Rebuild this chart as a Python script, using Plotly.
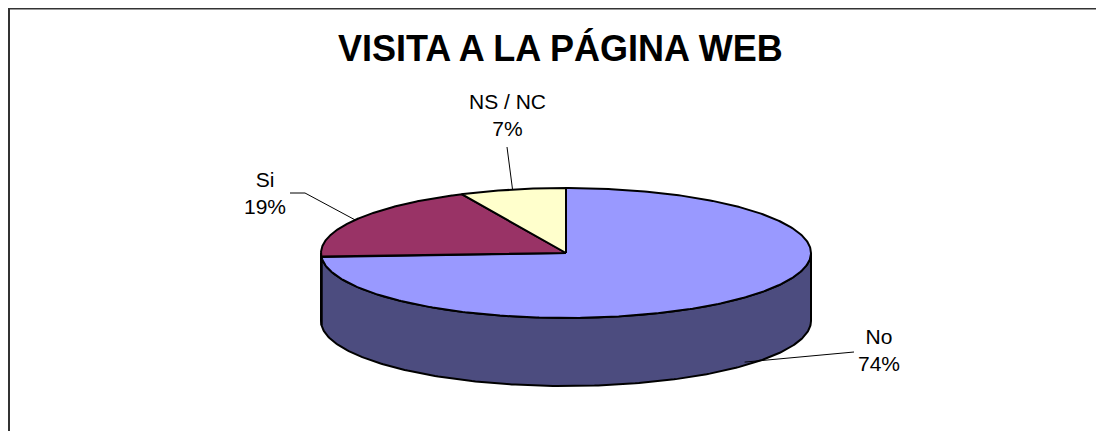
import numpy as np
import plotly.graph_objects as go

# ---- data ----
categories = ["No", "Si", "NS / NC"]
values = [74, 19, 7]
title_text = "VISITA A LA PÁGINA WEB"

# ---- styles / layout constants (page pixel coordinates) ----
top_colors = ["#9999FF", "#993366", "#FFFFCC"]
side_colors = ["#4C4C7F", "#4C1933", "#7F7F66"]
W, H = 1104, 431
OFF = 8  # browser body margin
CX, CY, RX, RY, DEPTH = 566, 253, 245, 65, 68
label_pos = [(879, 350), (265, 193), (507, 115)]
leader_end = [[(854, 352)], [(305, 193), (290, 193)], [(507, 147)]]
label_anchor_on_side = [True, False, False]

total = sum(values)
bounds = np.concatenate([[0.0], np.cumsum(values) / total * 360.0])


def pts(thetas, dy=0.0):
    t = np.radians(np.asarray(thetas, dtype=float))
    return CX + RX * np.sin(t), CY - RY * np.cos(t) + dy


fig = go.Figure()

# side walls (front half only: 90..270 degrees, clockwise from top)
for i in range(len(values)):
    a, b = max(bounds[i], 90.0), min(bounds[i + 1], 270.0)
    if b <= a:
        continue
    th = np.linspace(a, b, 200)
    xt, yt = pts(th)
    xb, yb = pts(th[::-1], DEPTH)
    fig.add_trace(go.Scatter(
        x=np.concatenate([xt, xb, xt[:1]]),
        y=np.concatenate([yt, yb, yt[:1]]),
        mode="lines", fill="toself", fillcolor=side_colors[i],
        line=dict(color="black", width=2), hoverinfo="skip", showlegend=False))

# top faces
for i in range(len(values)):
    a, b = bounds[i], bounds[i + 1]
    th = np.linspace(a, b, 400)
    xt, yt = pts(th)
    fig.add_trace(go.Scatter(
        x=np.concatenate([[CX], xt, [CX]]),
        y=np.concatenate([[CY], yt, [CY]]),
        mode="lines", fill="toself", fillcolor=top_colors[i],
        line=dict(color="black", width=2), hoverinfo="skip", showlegend=False,
        name=categories[i]))

# labels + leader lines
for i, cat in enumerate(categories):
    mid = (bounds[i] + bounds[i + 1]) / 2
    ax, ay = pts([mid], DEPTH * 0.95 if label_anchor_on_side[i] else 0.0)
    lx = [ax[0]] + [p[0] for p in leader_end[i]]
    ly = [ay[0]] + [p[1] for p in leader_end[i]]
    fig.add_trace(go.Scatter(x=lx, y=ly, mode="lines",
                             line=dict(color="black", width=1),
                             hoverinfo="skip", showlegend=False))
    pct = round(values[i] / total * 100)
    fig.add_annotation(x=label_pos[i][0], y=label_pos[i][1],
                       text=f"{cat}<br>{pct}%", showarrow=False,
                       xanchor="center", yanchor="middle",
                       font=dict(family="Liberation Sans, Arial", size=21, color="black"))

# title
fig.add_annotation(x=560, y=48, text=f"<b>{title_text}</b>", showarrow=False,
                   xanchor="center", yanchor="middle",
                   font=dict(family="Liberation Sans, Arial", size=36, color="black"))

# chart frame
fig.add_shape(type="rect", x0=9, y0=8.5, x1=W + 20, y1=H + 20,
              line=dict(color="#333333", width=2), fillcolor="rgba(0,0,0,0)",
              layer="below")

fig.update_layout(
    width=W, height=H, margin=dict(l=0, r=0, t=0, b=0),
    paper_bgcolor="white", plot_bgcolor="white", showlegend=False,
    xaxis=dict(range=[OFF, W + OFF], visible=False, fixedrange=True),
    yaxis=dict(range=[H + OFF, OFF], visible=False, fixedrange=True),
)

fig.write_html("out.html")
